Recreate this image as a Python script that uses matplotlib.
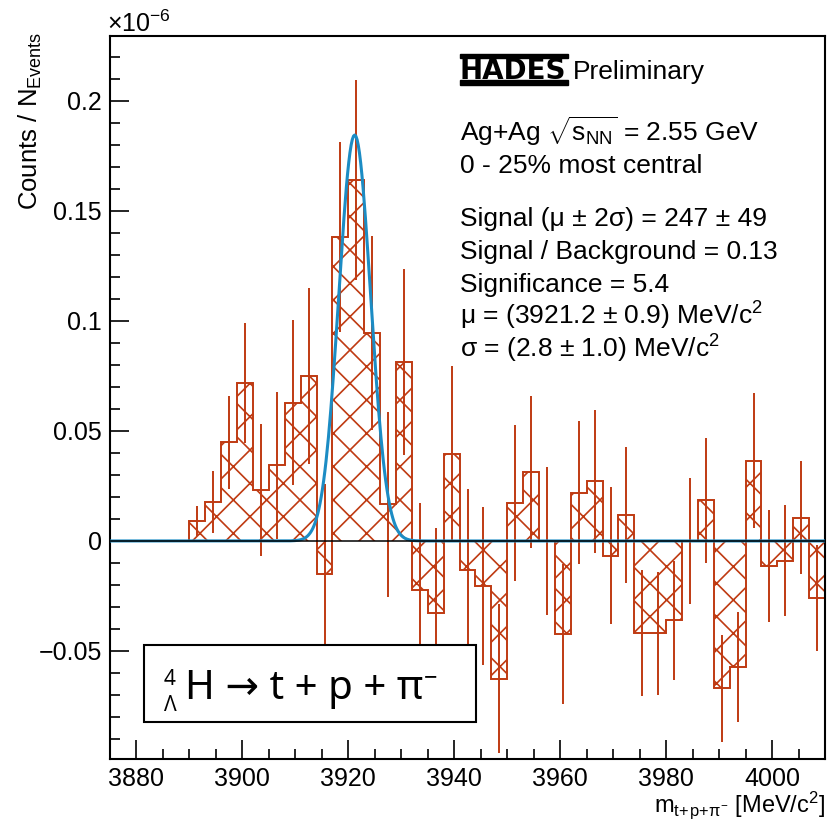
import numpy as np
import matplotlib
matplotlib.use("Agg")
import matplotlib.pyplot as plt
from matplotlib.ticker import MultipleLocator, FixedLocator, FixedFormatter
from matplotlib.patches import Rectangle

plt.rcParams["font.family"] = ["Liberation Sans", "DejaVu Sans"]
plt.rcParams["mathtext.fontset"] = "custom"
plt.rcParams["mathtext.rm"] = "Liberation Sans"
plt.rcParams["mathtext.it"] = "Liberation Sans:italic"
plt.rcParams["mathtext.bf"] = "Liberation Sans:bold"
plt.rcParams["hatch.linewidth"] = 1.2

RED = "#BF3A12"
BLUE = "#1C8CC4"

# invariant mass bins, 3 MeV/c^2 wide, values in units of 1e-6
bin_edges = np.arange(3890, 4011, 3)
counts = [0.0092, 0.0177, 0.0449, 0.0717, 0.0232, 0.0344, 0.0629, 0.0750,
          -0.0151, 0.1380, 0.1640, 0.0944, 0.0167, 0.0812, -0.0223, -0.0326,
          0.0394, -0.0132, -0.0203, -0.0626, 0.0171, 0.0312, 0.0000, -0.0424,
          0.0220, 0.0271, -0.0067, 0.0117, -0.0420, -0.0420, -0.0360, 0.0000,
          0.0186, -0.0670, -0.0571, 0.0365, -0.0114, -0.0089, 0.0106, -0.0260]
errors = [0.0068, 0.0142, 0.0211, 0.0273, 0.0300, 0.0335, 0.0374, 0.0400,
          0.0410, 0.0432, 0.0455, 0.0440, 0.0420, 0.0423, 0.0394, 0.0384,
          0.0400, 0.0370, 0.0359, 0.0339, 0.0355, 0.0345, 0.0336, 0.0318,
          0.0323, 0.0325, 0.0311, 0.0308, 0.0286, 0.0280, 0.0270, 0.0286,
          0.0284, 0.0242, 0.0250, 0.0307, 0.0255, 0.0252, 0.0256, 0.0241]

# gaussian fit parameters
fit_amp = 0.1845
fit_mu = 3921.2
fit_sigma = 3.0

x_ticks = [3880, 3900, 3920, 3940, 3960, 3980, 4000]
y_ticks = [-0.05, 0.0, 0.05, 0.1, 0.15, 0.2]
y_tick_labels = ["\u22120.05", "0", "0.05", "0.1", "0.15", "0.2"]

info_lines = [
    (r"Ag+Ag $\sqrt{\mathrm{s}_{\mathrm{NN}}}$ = 2.55 GeV", 141),
    ("0 - 25% most central", 173),
    ("Signal (\u03bc \u00b1 2\u03c3) = 247 \u00b1 49", 226),
    ("Signal / Background = 0.13", 259),
    ("Significance = 5.4", 292),
    ("\u03bc = (3921.2 \u00b1 0.9) MeV/c$^{2}$", 325),
    ("\u03c3 = (2.8 \u00b1 1.0) MeV/c$^{2}$", 358),
]

W, H = 828, 825


def fx(px):
    return px / W


def fy(py):
    return 1 - py / H


fig = plt.figure(figsize=(W / 100, H / 100), dpi=100)
ax = fig.add_axes([fx(110), fy(759), (825 - 110) / W, (759 - 36) / H])

counts = np.array(counts)
errors = np.array(errors)
centers = 0.5 * (bin_edges[:-1] + bin_edges[1:])

ax.stairs(counts, bin_edges, baseline=0, fill=True, facecolor="none",
          edgecolor=RED, hatch="x", linewidth=1.4, zorder=2)
ax.errorbar(centers, counts, yerr=errors, fmt="none", ecolor=RED,
            elinewidth=1.4, capsize=0, zorder=3)

xs = np.linspace(3875, 4010, 600)
ax.plot(xs, fit_amp * np.exp(-0.5 * ((xs - fit_mu) / fit_sigma) ** 2),
        color=BLUE, lw=2.2, zorder=4)
ax.axhline(0, color="black", lw=1.1, zorder=5)

ax.set_xlim(3875, 4010)
ax.set_ylim(-0.0991, 0.2295)

ax.xaxis.set_major_locator(FixedLocator(x_ticks))
ax.xaxis.set_minor_locator(MultipleLocator(5))
ax.yaxis.set_major_locator(FixedLocator(y_ticks))
ax.yaxis.set_major_formatter(FixedFormatter(y_tick_labels))
ax.yaxis.set_minor_locator(MultipleLocator(0.01))
ax.tick_params(direction="in", which="both", top=False, right=False,
               labelsize=18, width=1.2)
ax.tick_params(which="major", length=14, pad=6)
ax.tick_params(which="minor", length=7.5)
for s in ax.spines.values():
    s.set_linewidth(1.5)

fig.text(fx(107), fy(32), r"$\times$10$^{-6}$", fontsize=18, va="baseline")
fig.text(fx(30), fy(32), r"Counts / N$_{\mathrm{Events}}$", fontsize=18.5,
         rotation=90, ha="center", va="top")
fig.text(fx(825), fy(812), r"m$_{\mathrm{t\!+\!p\!+\!\pi^{-}}}$ [MeV/c$^{2}$]",
         fontsize=17, ha="right", va="baseline")

# HADES logo + Preliminary
fig.text(fx(460), fy(79), "HADES", fontsize=20, fontweight="bold",
         family="DejaVu Sans", va="baseline")
fig.patches.append(Rectangle((fx(460), fy(58)), 108 / W, 4 / H,
                             transform=fig.transFigure, color="black"))
fig.patches.append(Rectangle((fx(460), fy(85)), 108 / W, 5 / H,
                             transform=fig.transFigure, color="black"))
fig.text(fx(573), fy(79), "Preliminary", fontsize=19, va="baseline")

for txt, yb in info_lines:
    fig.text(fx(460), fy(yb), txt, fontsize=19, va="baseline")

# decay channel box
fig.patches.append(Rectangle((fx(144), fy(722)), (476 - 144) / W, (722 - 645) / H,
                             transform=fig.transFigure, facecolor="white",
                             edgecolor="black", lw=1.5, zorder=6))
box_font = ["Noto Sans", "DejaVu Sans"]
fig.text(fx(164), fy(685), "4", fontsize=15, family=box_font,
         va="baseline", zorder=7)
fig.text(fx(164), fy(711), "\u039b", fontsize=15, family=box_font,
         va="baseline", zorder=7)
main = fig.text(fx(185), fy(699), "H \u2192 t + p + \u03c0", fontsize=29,
                family=box_font, va="baseline", zorder=7)
renderer = fig.canvas.get_renderer()
bb = main.get_window_extent(renderer=renderer)
fig.text(bb.x1 / W + 1 / W, fy(684), "\u2212", fontsize=17, family=box_font,
         va="baseline", zorder=7)

fig.savefig("out.png", dpi=100)
